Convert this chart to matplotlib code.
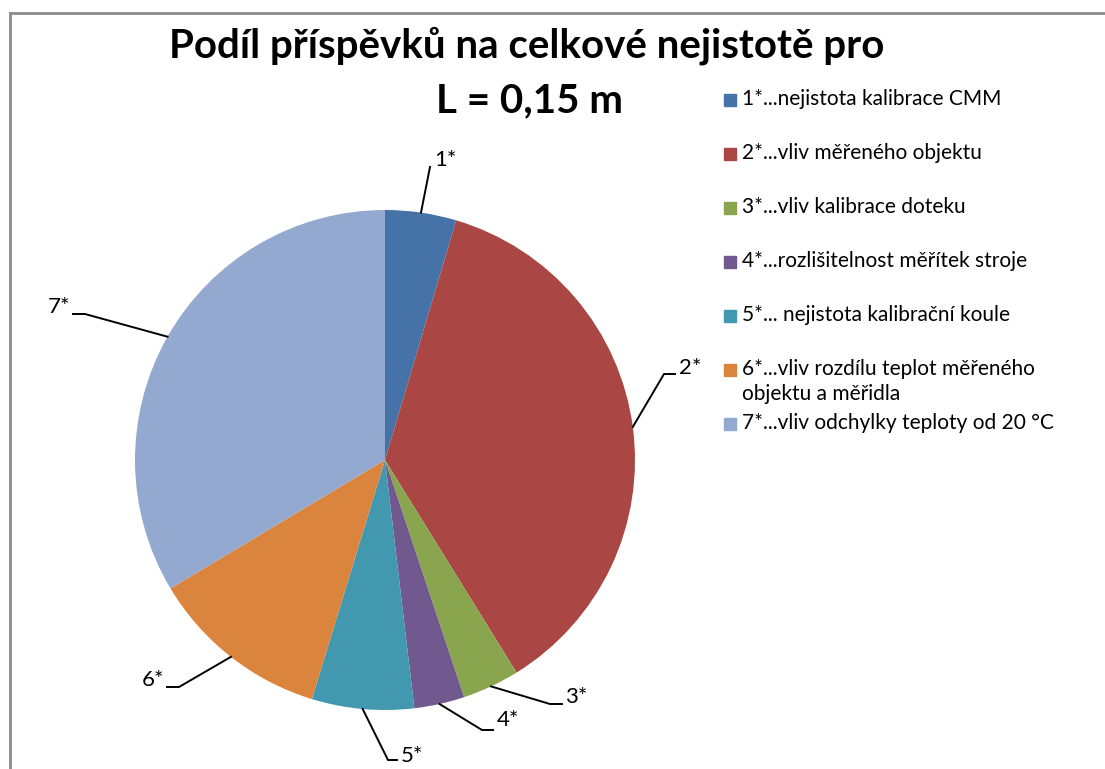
import numpy as np
import matplotlib
matplotlib.use("Agg")
import matplotlib.pyplot as plt
from matplotlib.lines import Line2D
from matplotlib.patches import Rectangle

plt.rcParams['font.family'] = ['Lato', 'DejaVu Sans']

# podíly jednotlivých příspěvků (%)
shares = [4.6, 36.6, 3.7, 3.25, 6.6, 11.7, 33.6]
short_labels = ["1*", "2*", "3*", "4*", "5*", "6*", "7*"]
legend_labels = [
    "1*...nejistota kalibrace CMM",
    "2*...vliv měřeného objektu",
    "3*...vliv kalibrace doteku",
    "4*...rozlišitelnost měřítek stroje",
    "5*... nejistota kalibrační koule",
    "6*...vliv rozdílu teplot měřeného\nobjektu a měřidla",
    "7*...vliv odchylky teploty od 20 °C",
]
colors = ["#4572A7", "#AA4643", "#89A54E", "#71588F", "#4198AF", "#DB843D", "#93A9CF"]

W, H = 1105, 769
fig = plt.figure(figsize=(W / 100, H / 100), dpi=100)

# pie axes: centre (385, 460) px, radius 250 px
ax = fig.add_axes([135 / W, (H - 710) / H, 500 / W, 500 / H])
wedges, _ = ax.pie(shares, colors=colors, startangle=90, counterclock=False,
                   radius=1.0, wedgeprops=dict(linewidth=0))
ax.set_xlim(-1, 1)
ax.set_ylim(-1, 1)
ax.set_aspect('auto')
ax.axis('off')

# leader lines: elbow point, horizontal tail end, text anchor, alignment
leaders = [
    ((0.18, 1.172), None, (0.196, 1.20), 'left'),
    ((1.116, 0.344), (1.16, 0.344), (1.176, 0.37), 'left'),
    ((0.66, -0.976), (0.708, -0.976), (0.72, -0.948), 'left'),
    ((0.388, -1.08), (0.432, -1.08), (0.448, -1.04), 'left'),
    ((0.012, -1.2), (0.048, -1.2), (0.064, -1.186), 'left'),
    ((-0.824, -0.908), (-0.872, -0.908), (-0.884, -0.88), 'right'),
    ((-1.2, 0.584), (-1.248, 0.584), (-1.26, 0.612), 'right'),
]
for w, lab, (elbow, tail, txt, ha) in zip(wedges, short_labels, leaders):
    mid = np.deg2rad((w.theta1 + w.theta2) / 2)
    x0, y0 = np.cos(mid), np.sin(mid)
    xs, ys = [x0, elbow[0]], [y0, elbow[1]]
    if tail is not None:
        xs.append(tail[0])
        ys.append(tail[1])
    ax.plot(xs, ys, color='black', lw=1.4, clip_on=False)
    ax.text(txt[0], txt[1], lab, ha=ha, va='center', fontsize=16, clip_on=False)

# title
fig.text(527 / W, 1 - 46 / H, "Podíl příspěvků na celkové nejistotě pro",
         ha='center', va='center', fontsize=29, fontweight='bold')
fig.text(530 / W, 1 - 101 / H, "L = 0,15 m",
         ha='center', va='center', fontsize=29, fontweight='bold')

# legend
row_y = [100, 154, 208, 262, 316, 370, 424]
for y, lab, c in zip(row_y, legend_labels, colors):
    fig.patches.append(Rectangle((724 / W, 1 - (y + 6) / H), 12 / W, 12 / H,
                                 transform=fig.transFigure, color=c))
    fig.text(742 / W, 1 - (y - 11) / H, lab, ha='left', va='top',
             fontsize=15, linespacing=1.32)

# chart frame edges
fig.add_artist(Line2D([10 / W, 1], [1 - 13 / H, 1 - 13 / H],
                      transform=fig.transFigure, color='#8c8c8c', lw=2))
fig.add_artist(Line2D([10 / W, 10 / W], [0, 1 - 13 / H],
                      transform=fig.transFigure, color='#8c8c8c', lw=2))

fig.savefig("out.png", dpi=100)
